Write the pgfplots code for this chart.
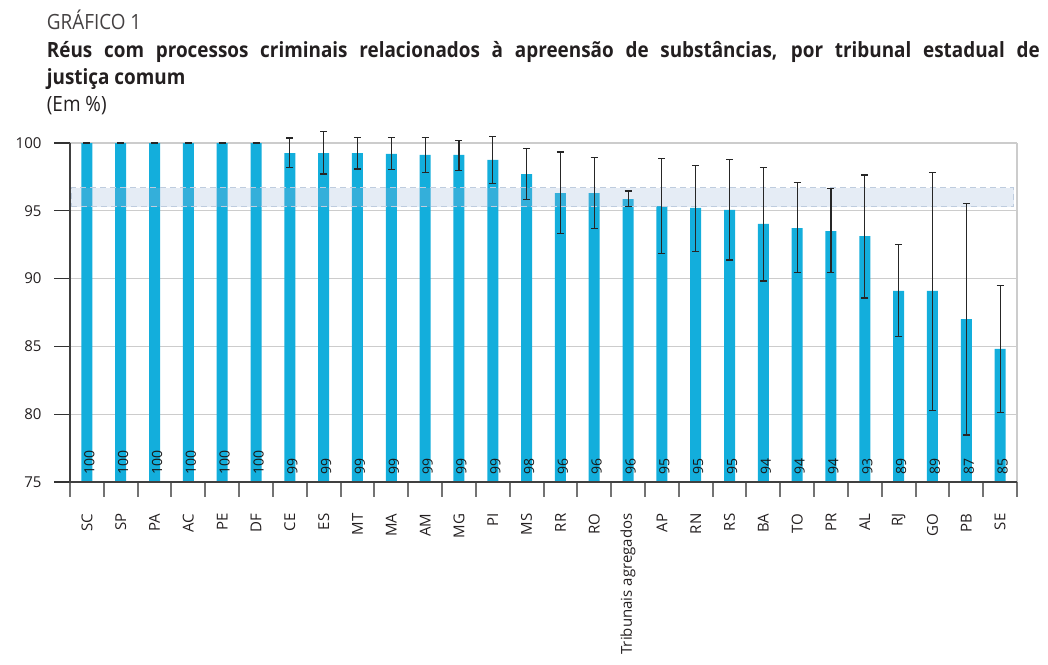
\documentclass[border=0pt]{standalone}
\usepackage{pgfplots}
\pgfplotsset{compat=1.18}
\usepackage{pgfplotstable}
\usepackage{fontspec}
\setmainfont{Open Sans}
\newfontfamily\titlefont[FakeStretch=0.9]{Open Sans}
\definecolor{barc}{RGB}{19,174,220}
\definecolor{bandc}{RGB}{151,179,215}
\definecolor{bandl}{RGB}{190,204,222}
\definecolor{gridc}{RGB}{204,204,204}
\definecolor{txt}{RGB}{35,31,32}

\pgfplotstableread{
x y lo hi lab
0 100 100 100 100
1 100 100 100 100
2 100 100 100 100
3 100 100 100 100
4 100 100 100 100
5 100 100 100 100
6 99.26 98.18 100.37 99
7 99.26 97.71 100.83 99
8 99.26 98.08 100.40 99
9 99.19 98.06 100.42 99
10 99.12 97.84 100.42 99
11 99.12 97.99 100.20 99
12 98.75 97.03 100.49 99
13 97.71 95.82 99.61 98
14 96.31 93.34 99.34 96
15 96.31 93.68 98.94 96
16 95.87 95.33 96.46 96
17 95.35 91.87 98.84 95
18 95.21 92.01 98.36 95
19 95.06 91.37 98.77 95
20 94.03 89.82 98.18 94
21 93.73 90.46 97.07 94
22 93.51 90.44 96.66 94
23 93.14 88.57 97.64 93
24 89.09 85.74 92.53 89
25 89.09 80.29 97.84 89
26 87.02 78.47 95.55 87
27 84.81 80.11 89.48 85
}\data

\begin{document}
\begin{tikzpicture}
\path (0pt,0pt) rectangle (1048pt,-664pt);
\node[anchor=base west, inner sep=0pt, font=\titlefont\fontsize{21}{24}\selectfont, text=txt!85] at (46.7pt,-29pt) {GRÁFICO 1};
\node[anchor=base west, inner sep=0pt, font=\titlefont\fontsize{21}{24}\selectfont\bfseries, text=txt] at (46.7pt,-57pt) {\makebox[993pt][s]{Réus com processos criminais relacionados à apreensão de substâncias, por tribunal estadual de}};
\node[anchor=base west, inner sep=0pt, font=\titlefont\fontsize{21}{24}\selectfont\bfseries, text=txt] at (46.7pt,-84pt) {justiça comum};
\node[anchor=base west, inner sep=0pt, font=\titlefont\fontsize{21}{24}\selectfont, text=txt] at (46.7pt,-111pt) {(Em \%)};
\begin{axis}[
  at={(70pt,-482pt)}, anchor=south west,
  scale only axis, width=947pt, height=352.56pt,
  xmin=-0.5, xmax=27.5, ymin=75, ymax=101,
  ytick={75,80,...,100},
  xtick={0,...,27},
  xticklabels={SC,SP,PA,AC,PE,DF,CE,ES,MT,MA,AM,MG,PI,MS,RR,RO,Tribunais agregados,AP,RN,RS,BA,TO,PR,AL,RJ,GO,PB,SE},
  tick pos=left, tick align=outside,
  major tick length=16pt,
  major x tick style={draw=none},
  major y tick style={black!80, line width=1.2pt},
  axis line style={draw=none},
  ymajorgrids, grid style={gridc, line width=1.2pt},
  clip mode=individual,
  /pgf/number format/assume math mode=true,
  ticklabel style={font=\fontsize{15}{18}\selectfont, text=txt},
  xticklabel style={rotate=90, anchor=east},
  xticklabel shift=12pt,
  yticklabel shift=9pt,
  after end axis/.code={
    \draw[gridc, line width=1.2pt] (axis cs:27.5,75) -- (axis cs:27.5,100);
    \foreach \i in {0,...,28} {\draw[black!55, line width=2pt] (axis cs:{\i-0.5},75) -- ++(0pt,-15pt);}
    \draw[black!75, line width=1.3pt] (axis cs:-0.5,100) -- (axis cs:-0.5,75) -- (axis cs:27.5,75);
  },
]
\addplot[ybar, bar width=0.325, fill=barc, draw=none] table[x=x,y=y]{\data};
\addplot[fill=bandc, fill opacity=0.25, draw=bandl, dash pattern=on 6pt off 4pt, line width=1pt] coordinates {(-0.47,95.3) (27.41,95.3) (27.41,96.7) (-0.47,96.7)} -- cycle;
\addplot[draw=none, mark=none,
  error bars/.cd, y dir=both, y explicit,
  error bar style={draw=black!85, line width=1.1pt},
  error mark options={rotate=90, draw=black!85, mark size=3.5pt, line width=1.2pt}]
  table[x=x, y=y, y error plus expr=\thisrow{hi}-\thisrow{y}, y error minus expr=\thisrow{y}-\thisrow{lo}]{\data};
\addplot[draw=none, mark=none, nodes near coords, point meta=explicit symbolic,
  every node near coord/.append style={rotate=90, anchor=west, inner sep=0pt, xshift=7.5pt, yshift=-2.5pt, font=\fontsize{14}{16}\selectfont, text=black!90}]
  table[x=x, y expr=75, meta=lab]{\data};
\end{axis}
\end{tikzpicture}
\end{document}
